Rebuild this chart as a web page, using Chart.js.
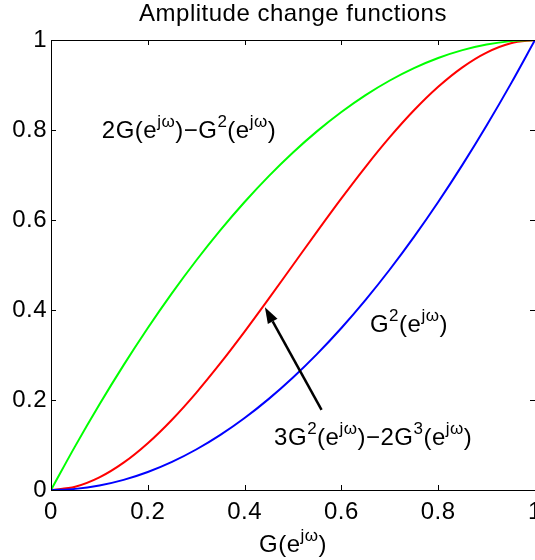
<!DOCTYPE html>
<html>
<head>
<meta charset="utf-8">
<script src="https://cdn.jsdelivr.net/npm/chart.js@4/dist/chart.umd.min.js"></script>
<style>
  html, body { margin: 0; padding: 0; background: #fff; }
  #wrap { width: 535px; height: 560px; position: relative; }
</style>
</head>
<body>
<div id="wrap"><canvas id="chart"></canvas></div>
<script>
// G(e^jw) sample points along the horizontal axis
const gain = [0, 0.05, 0.1, 0.15, 0.2, 0.25, 0.3, 0.35, 0.4, 0.45, 0.5,
              0.55, 0.6, 0.65, 0.7, 0.75, 0.8, 0.85, 0.9, 0.95, 1];
// G^2
const squared = [0, 0.0025, 0.01, 0.0225, 0.04, 0.0625, 0.09, 0.1225, 0.16, 0.2025, 0.25,
                 0.3025, 0.36, 0.4225, 0.49, 0.5625, 0.64, 0.7225, 0.81, 0.9025, 1];
// 2G - G^2
const complementary = [0, 0.0975, 0.19, 0.2775, 0.36, 0.4375, 0.51, 0.5775, 0.64, 0.6975, 0.75,
                       0.7975, 0.84, 0.8775, 0.91, 0.9375, 0.96, 0.9775, 0.99, 0.9975, 1];
// 3G^2 - 2G^3
const sharpened = [0, 0.00725, 0.028, 0.06075, 0.104, 0.15625, 0.216, 0.28175, 0.352, 0.42525, 0.5,
                   0.57475, 0.648, 0.71825, 0.784, 0.84375, 0.896, 0.93925, 0.972, 0.99275, 1];

const tickValues = [0, 0.2, 0.4, 0.6, 0.8, 1];
const tickLabels = ['0', '0.2', '0.4', '0.6', '0.8', '1'];

const titleText = 'Amplitude change functions';
const xTitleText = 'G(e^{jω})';
const labelComplementary = '2G(e^{jω})−G^{2}(e^{jω})';
const labelSquared = 'G^{2}(e^{jω})';
const labelSharpened = '3G^{2}(e^{jω})−2G^{3}(e^{jω})';

const FONT = '"Liberation Sans", Arial, Helvetica, sans-serif';
const MAIN_PX = 24;
const SUP_PX = 17;
const SPACING = '0.5px';

// split "a^{b}c" into normal / superscript runs
function parseRich(str) {
  const parts = [];
  const re = /\^\{([^}]*)\}/g;
  let last = 0, m;
  while ((m = re.exec(str)) !== null) {
    if (m.index > last) parts.push({ t: str.slice(last, m.index), sup: false });
    parts.push({ t: m[1], sup: true });
    last = re.lastIndex;
  }
  if (last < str.length) parts.push({ t: str.slice(last), sup: false });
  return parts;
}

function drawRich(ctx, str, x, y, align) {
  const parts = parseRich(str);
  let w = 0;
  parts.forEach(p => {
    ctx.font = (p.sup ? SUP_PX : MAIN_PX) + 'px ' + FONT;
    w += ctx.measureText(p.t).width;
  });
  let cx = align === 'center' ? x - w / 2 : x;
  ctx.textAlign = 'left';
  ctx.textBaseline = 'alphabetic';
  parts.forEach(p => {
    ctx.font = (p.sup ? SUP_PX : MAIN_PX) + 'px ' + FONT;
    ctx.fillText(p.t, cx, p.sup ? y - 11 : y);
    cx += ctx.measureText(p.t).width;
  });
}

const decorations = {
  id: 'decorations',
  beforeDraw(chart) {
    chart.ctx.letterSpacing = SPACING;
  },
  afterDraw(chart) {
    const { ctx, chartArea: a, scales: { x, y } } = chart;
    ctx.save();
    ctx.letterSpacing = SPACING;
    ctx.strokeStyle = '#000';
    ctx.lineWidth = 1;

    // top frame line
    ctx.beginPath();
    ctx.moveTo(a.left, a.top + 0.5);
    ctx.lineTo(a.right, a.top + 0.5);
    ctx.stroke();

    // inward tick marks on all four sides
    const tl = 5;
    ctx.beginPath();
    tickValues.forEach(v => {
      const px = Math.round(x.getPixelForValue(v)) + 0.5;
      ctx.moveTo(px, a.bottom); ctx.lineTo(px, a.bottom - tl);
      ctx.moveTo(px, a.top); ctx.lineTo(px, a.top + tl);
      const py = Math.round(y.getPixelForValue(v)) + 0.5;
      ctx.moveTo(a.left, py); ctx.lineTo(a.left + tl, py);
      ctx.moveTo(a.right, py); ctx.lineTo(a.right - tl, py);
    });
    ctx.stroke();

    ctx.fillStyle = '#000';
    // title and horizontal axis title
    drawRich(ctx, titleText, (a.left + a.right) / 2, 21, 'center');
    drawRich(ctx, xTitleText, (a.left + a.right) / 2, 552, 'center');

    // curve labels
    drawRich(ctx, labelComplementary, x.getPixelForValue(0.105), y.getPixelForValue(0.782), 'left');
    drawRich(ctx, labelSquared, x.getPixelForValue(0.659), y.getPixelForValue(0.351), 'left');
    drawRich(ctx, labelSharpened, x.getPixelForValue(0.461), y.getPixelForValue(0.1), 'left');

    // arrow pointing at the 3G^2-2G^3 curve
    const x0 = x.getPixelForValue(0.559), y0 = y.getPixelForValue(0.178);
    const x1 = x.getPixelForValue(0.442), y1 = y.getPixelForValue(0.406);
    const ang = Math.atan2(y1 - y0, x1 - x0);
    const headLen = 16, headHalf = 5.5;
    const bx = x1 - headLen * Math.cos(ang), by = y1 - headLen * Math.sin(ang);
    ctx.lineWidth = 2.5;
    ctx.beginPath();
    ctx.moveTo(x0, y0);
    ctx.lineTo(bx, by);
    ctx.stroke();
    ctx.beginPath();
    ctx.moveTo(x1, y1);
    ctx.lineTo(bx + headHalf * Math.sin(ang), by - headHalf * Math.cos(ang));
    ctx.lineTo(bx - headHalf * Math.sin(ang), by + headHalf * Math.cos(ang));
    ctx.closePath();
    ctx.fill();
    ctx.restore();
  }
};

function series(values, color) {
  return {
    data: gain.map((g, i) => ({ x: g, y: values[i] })),
    borderColor: color,
    borderWidth: 2,
    pointRadius: 0,
    fill: false,
    cubicInterpolationMode: 'monotone'
  };
}

const tickFont = { family: FONT, size: MAIN_PX };

new Chart(document.getElementById('chart'), {
  type: 'line',
  data: {
    datasets: [
      series(squared, '#0000ff'),
      series(complementary, '#00ff00'),
      series(sharpened, '#ff0000')
    ]
  },
  options: {
    responsive: true,
    maintainAspectRatio: false,
    animation: false,
    events: [],
    layout: { padding: { top: 40, right: 0, bottom: 0, left: 0 } },
    plugins: { legend: { display: false }, tooltip: { enabled: false }, title: { display: false } },
    scales: {
      x: {
        type: 'linear',
        min: 0, max: 1,
        afterBuildTicks: s => { s.ticks = tickValues.map(v => ({ value: v })); },
        afterFit: s => { s.height = 70; s.paddingLeft = 0; s.paddingRight = 0; },
        grid: { display: false, drawTicks: false },
        border: { display: true, color: '#000', width: 1 },
        ticks: {
          color: '#000', font: tickFont, padding: 8, maxRotation: 0, autoSkip: false,
          callback: (v, i) => tickLabels[i]
        }
      },
      y: {
        type: 'linear',
        min: 0, max: 1,
        afterBuildTicks: s => { s.ticks = tickValues.map(v => ({ value: v })); },
        afterFit: s => { s.width = 51; s.paddingTop = 0; s.paddingBottom = 0; },
        grid: { display: false, drawTicks: false },
        border: { display: true, color: '#000', width: 1 },
        ticks: {
          color: '#000', font: tickFont, padding: 4, autoSkip: false,
          callback: (v, i) => tickLabels[i]
        }
      }
    }
  },
  plugins: [decorations]
});
</script>
</body>
</html>
